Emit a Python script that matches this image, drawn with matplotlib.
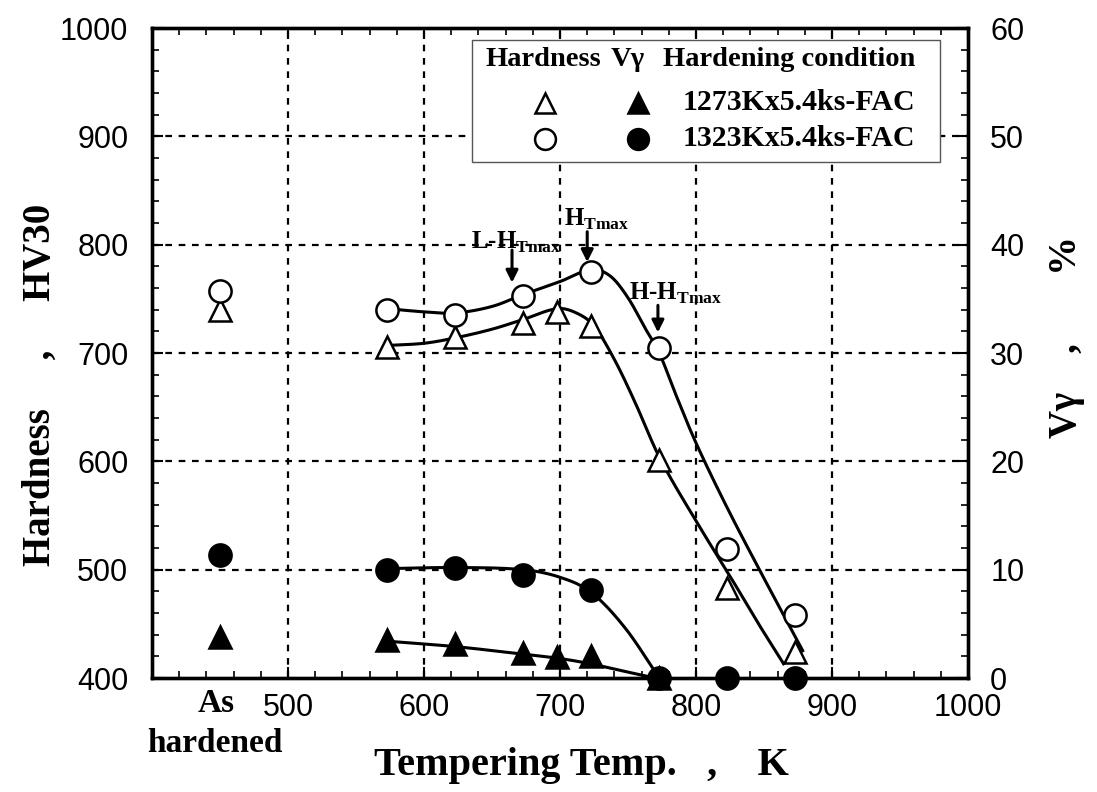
import numpy as np
import matplotlib
matplotlib.use("Agg")
import matplotlib.pyplot as plt
from matplotlib.ticker import MultipleLocator
from matplotlib.patches import Rectangle

plt.rcParams['mathtext.fontset'] = 'custom'
plt.rcParams['mathtext.rm'] = 'Liberation Serif:bold'
plt.rcParams['mathtext.bf'] = 'Liberation Serif:bold'

SERIF = 'Liberation Serif'
TICKFONT = ['Liberation Sans', 'DejaVu Sans']

# ---------------- data ----------------
as_hardened_x = 450

# Hardness, 1273K (open triangles)
t1273_hv = [573, 623, 673, 698, 723, 773, 823, 873]
hv1273 = [706, 715, 728, 738, 725, 601, 483, 424]
hv1273_ah = 740
# Hardness, 1323K (open circles)
t1323_hv = [573, 623, 673, 723, 773, 823, 873]
hv1323 = [740, 735, 753, 775, 705, 519, 458]
hv1323_ah = 757
# V-gamma, 1273K (filled triangles)
t1273_vg = [573, 623, 673, 698, 723, 773]
vg1273 = [3.5, 3.1, 2.3, 1.9, 2.0, 0.0]
vg1273_ah = 3.8
# V-gamma, 1323K (filled circles)
t1323_vg = [573, 623, 673, 723, 773, 823, 873]
vg1323 = [10.0, 10.2, 9.5, 8.1, 0.0, 0.0, 0.0]
vg1323_ah = 11.4

# hand-drawn fitting curves (knots)
fit1273_hv_x = [573, 600, 623, 650, 673, 698, 712, 725, 740, 755, 773, 800, 825, 845, 865]
fit1273_hv_y = [707, 709, 714, 722, 731, 741, 737, 725, 694, 655, 604, 545, 494, 452, 412]
fit1323_hv_x = [573, 600, 623, 650, 673, 700, 723, 737, 750, 763, 773, 786, 800, 823, 850, 879]
fit1323_hv_y = [741, 738, 737, 743, 754, 766, 777, 771, 751, 722, 700, 659, 617, 557, 492, 424]
fit1273_vg_x = [573, 623, 673, 700, 723, 748, 770]
fit1273_vg_y = [3.4, 2.9, 2.2, 1.8, 1.3, 0.6, 0.0]
fit1323_vg_x = [573, 623, 673, 700, 723, 748, 773]
fit1323_vg_y = [10.1, 10.2, 10.0, 9.3, 7.9, 4.6, 0.0]

xticks = [500, 600, 700, 800, 900, 1000]


def smooth(xk, yk, n=30):
    """Cubic Hermite curve y(x) through hand-drawn knots."""
    x = np.asarray(xk, float)
    y = np.asarray(yk, float)
    m = np.empty_like(y)
    m[1:-1] = (y[2:] - y[:-2]) / (x[2:] - x[:-2])
    m[0] = (y[1] - y[0]) / (x[1] - x[0])
    m[-1] = (y[-1] - y[-2]) / (x[-1] - x[-2])
    xs, ys = [], []
    for i in range(len(x) - 1):
        h = x[i + 1] - x[i]
        t = np.linspace(0, 1, n)
        h00 = 2 * t ** 3 - 3 * t ** 2 + 1
        h10 = t ** 3 - 2 * t ** 2 + t
        h01 = -2 * t ** 3 + 3 * t ** 2
        h11 = t ** 3 - t ** 2
        xs.append(x[i] + t * h)
        ys.append(h00 * y[i] + h10 * h * m[i] + h01 * y[i + 1] + h11 * h * m[i + 1])
    return np.concatenate(xs), np.concatenate(ys)


fig = plt.figure(figsize=(10.97, 7.92), dpi=100)
ax = fig.add_axes([0.1386, 0.1439, 0.7438, 0.8207])
ax2 = ax.twinx()

ax.set_xlim(400, 1000)
ax.set_ylim(400, 1000)
ax2.set_ylim(0, 60)

# ticks
ax.set_xticks(xticks)
ax.xaxis.set_minor_locator(MultipleLocator(20))
ax.set_yticks(range(400, 1001, 100))
ax.yaxis.set_minor_locator(MultipleLocator(20))
ax2.set_yticks(range(0, 61, 10))
ax2.yaxis.set_minor_locator(MultipleLocator(2))

# grid
for v in xticks[:-1]:
    ax.axvline(v, color='k', lw=1.6, ls=(0, (3, 3)), zorder=1)
for v in range(500, 1000, 100):
    ax.axhline(v, color='k', lw=1.6, ls=(0, (3, 3)), zorder=1)

lw = 2.2
ms = 16
mew = 1.8
# curves
for (xk, yk, a) in [(fit1273_hv_x, fit1273_hv_y, ax), (fit1323_hv_x, fit1323_hv_y, ax),
                    (fit1273_vg_x, fit1273_vg_y, ax2), (fit1323_vg_x, fit1323_vg_y, ax2)]:
    xs, ys = smooth(xk, yk)
    a.plot(xs, ys, color='k', lw=lw, zorder=3, clip_on=False, solid_capstyle='butt')

# markers
ax.plot(t1273_hv, hv1273, ls='none', marker='^', ms=ms, mfc='white', mec='k', mew=mew, zorder=4)
ax.plot([as_hardened_x], [hv1273_ah], ls='none', marker='^', ms=ms, mfc='white', mec='k', mew=mew, zorder=4)
ax.plot(t1323_hv, hv1323, ls='none', marker='o', ms=ms, mfc='white', mec='k', mew=mew, zorder=5)
ax.plot([as_hardened_x], [hv1323_ah], ls='none', marker='o', ms=ms, mfc='white', mec='k', mew=mew, zorder=5)
ax2.plot(t1273_vg, vg1273, ls='none', marker='^', ms=ms, mfc='k', mec='k', mew=mew, zorder=4, clip_on=False)
ax2.plot([as_hardened_x], [vg1273_ah], ls='none', marker='^', ms=ms, mfc='k', mec='k', mew=mew, zorder=4)
ax2.plot(t1323_vg, vg1323, ls='none', marker='o', ms=ms, mfc='k', mec='k', mew=mew, zorder=5, clip_on=False)
ax2.plot([as_hardened_x], [vg1323_ah], ls='none', marker='o', ms=ms, mfc='k', mec='k', mew=mew, zorder=5)

# spines / ticks
for a in (ax, ax2):
    for sp in a.spines.values():
        sp.set_linewidth(2.4)
ax.tick_params(axis='x', which='both', direction='in', top=True, bottom=True)
ax.tick_params(axis='y', which='both', direction='in', left=True, right=False)
ax2.tick_params(axis='y', which='both', direction='in', right=True, left=False)
for a in (ax, ax2):
    a.tick_params(which='major', length=8, width=1.5, labelsize=22)
    a.tick_params(which='minor', length=5, width=1.2)
ax.tick_params(axis='x', which='major', pad=11)
ax.tick_params(axis='y', which='major', pad=17)
ax2.tick_params(axis='y', which='major', pad=16)
ax.set_xticklabels([str(v) for v in xticks], family=TICKFONT)
ax.set_yticklabels([str(v) for v in range(400, 1001, 100)], family=TICKFONT)
ax2.set_yticklabels([str(v) for v in range(0, 61, 10)], family=TICKFONT)

# axis labels
fig.text(0.037, 0.514, 'Hardness     ,     HV30', rotation=90, ha='center', va='center',
         family=SERIF, weight='bold', fontsize=28)
fig.text(0.972, 0.575, 'V\u03b3    ,       %', rotation=90, ha='center', va='center',
         family=SERIF, weight='bold', fontsize=28)
fig.text(0.53, 0.034, 'Tempering Temp.   ,    K', ha='center', va='center',
         family=SERIF, weight='bold', fontsize=29)
fig.text(216 / 1097, 1 - 704 / 792, 'As', ha='center', va='center', family=SERIF, weight='bold', fontsize=24)
fig.text(215 / 1097, 1 - 744 / 792, 'hardened', ha='center', va='center', family=SERIF, weight='bold', fontsize=24)

# annotations
arrowkw = dict(arrowstyle='-|>', color='k', lw=2.2, mutation_scale=18, shrinkA=0, shrinkB=0)
ax.annotate('', xy=(664.7, 765), xytext=(664.7, 795), arrowprops=arrowkw, zorder=6)
ax.annotate('', xy=(720, 784), xytext=(720, 812), arrowprops=arrowkw, zorder=6)
ax.annotate('', xy=(772, 719), xytext=(772, 744), arrowprops=arrowkw, zorder=6)
ax.text(668, 802, r'L-H$_{\rm Tmax}$', ha='center', va='center', family=SERIF, weight='bold', fontsize=18, zorder=6)
ax.text(727, 823, r'H$_{\rm Tmax}$', ha='center', va='center', family=SERIF, weight='bold', fontsize=18, zorder=6)
ax.text(785, 755, r'H-H$_{\rm Tmax}$', ha='center', va='center', family=SERIF, weight='bold', fontsize=18, zorder=6)

# legend (manual)
fig_tr = fig.transFigure
W, H = 1097.0, 792.0
def fx(px):
    return px / W
def fy(py):
    return 1 - py / H
box = Rectangle((fx(472), fy(162)), fx(940) - fx(472), fy(40) - fy(162), transform=fig_tr,
                facecolor='white', edgecolor='#555555', lw=1.0, zorder=10)
fig.patches.append(box)
legfont = dict(family=SERIF, weight='bold', zorder=11)
fig.text(fx(485), fy(60), 'Hardness', ha='left', va='center', fontsize=20.5, **legfont)
fig.text(fx(628), fy(60), 'V\u03b3', ha='center', va='center', fontsize=20.5, **legfont)
fig.text(fx(915), fy(60), 'Hardening condition', ha='right', va='center', fontsize=20.5, **legfont)
fig.text(fx(915), fy(103), '1273Kx5.4ks-FAC', ha='right', va='center', fontsize=21.5, **legfont)
fig.text(fx(915), fy(139), '1323Kx5.4ks-FAC', ha='right', va='center', fontsize=21.5, **legfont)
lm = dict(ms=15, mew=1.8, mec='k', ls='none', transform=fig_tr, zorder=12)
fig.add_artist(plt.Line2D([fx(545)], [fy(103)], marker='^', mfc='white', **lm))
fig.add_artist(plt.Line2D([fx(638)], [fy(103)], marker='^', mfc='k', **lm))
fig.add_artist(plt.Line2D([fx(545)], [fy(139)], marker='o', mfc='white', **lm))
fig.add_artist(plt.Line2D([fx(638)], [fy(139)], marker='o', mfc='k', **lm))

fig.savefig('out.png', dpi=100)
